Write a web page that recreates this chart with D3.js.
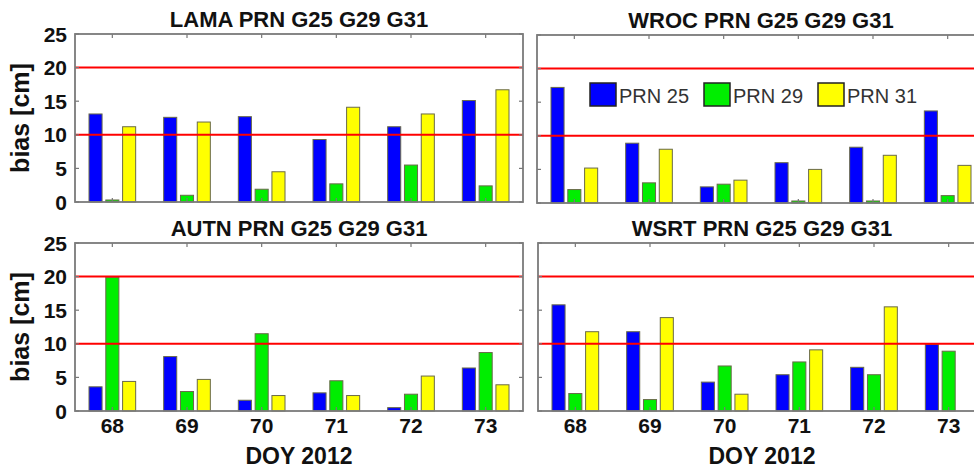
<!DOCTYPE html>
<html>
<head>
<meta charset="utf-8">
<script src="https://cdn.jsdelivr.net/npm/d3@7"></script>
<style>
  body { margin: 0; background: #fff; }
  svg { display: block; font-family: "Liberation Sans", Arial, sans-serif; }
</style>
</head>
<body>
<svg id="chart"></svg>
<script>
// day of year, 2012
var doy = [68, 69, 70, 71, 72, 73];
var yTicks = [0, 5, 10, 15, 20, 25];
var limits = [10, 20];
var prnNames = ["PRN 25", "PRN 29", "PRN 31"];

// bias [cm] per station and satellite
var lamaG25 = [13.1, 12.6, 12.7, 9.3, 11.2, 15.1];
var lamaG29 = [0.3, 1.0, 1.9, 2.7, 5.5, 2.4];
var lamaG31 = [11.2, 11.9, 4.5, 14.1, 13.1, 16.7];

var wrocG25 = [17.2, 8.9, 2.4, 6.0, 8.3, 13.7];
var wrocG29 = [2.0, 3.0, 2.8, 0.3, 0.3, 1.1];
var wrocG31 = [5.2, 8.0, 3.4, 5.0, 7.1, 5.6];

var autnG25 = [3.6, 8.1, 1.6, 2.7, 0.5, 6.4];
var autnG29 = [19.9, 2.9, 11.5, 4.5, 2.5, 8.7];
var autnG31 = [4.4, 4.7, 2.3, 2.3, 5.2, 3.9];

var wsrtG25 = [15.8, 11.8, 4.3, 5.4, 6.5, 9.9];
var wsrtG29 = [2.6, 1.7, 6.7, 7.3, 5.4, 8.9];
var wsrtG31 = [11.8, 13.9, 2.5, 9.1, 15.5, null];

var colors = ["#0000ff", "#00ee00", "#ffff00"];

var W = 974, H = 469;
var svg = d3.select("#chart").attr("width", W).attr("height", H);

var panels = [
  {name: "LAMA", series: [lamaG25, lamaG29, lamaG31], x0: 75, y0: 34, yLabels: true, xLabels: false},
  {name: "WROC", series: [wrocG25, wrocG29, wrocG31], x0: 537, y0: 35, yLabels: false, xLabels: false, legend: true},
  {name: "AUTN", series: [autnG25, autnG29, autnG31], x0: 75, y0: 243, yLabels: true, xLabels: true},
  {name: "WSRT", series: [wsrtG25, wsrtG29, wsrtG31], x0: 538, y0: 243, yLabels: false, xLabels: true}
];
var PW = 448, PH = 168;
var barW = 0.175, barOff = 0.225;

panels.forEach(function (p) {
  var g = svg.append("g").attr("transform", "translate(" + p.x0 + "," + p.y0 + ")");
  var x = d3.scaleLinear().domain([67.5, 73.5]).range([0, PW]);
  var y = d3.scaleLinear().domain([0, 25]).range([PH, 0]);

  // bars
  p.series.forEach(function (vals, si) {
    var data = vals.map(function (v, i) { return {d: doy[i], v: v}; })
      .filter(function (o) { return o.v != null; });
    g.selectAll(".b" + si).data(data).enter().append("rect")
      .attr("x", function (o) { return x(o.d + (si - 1) * barOff - barW / 2); })
      .attr("width", x(67.5 + barW) - x(67.5))
      .attr("y", function (o) { return y(o.v); })
      .attr("height", function (o) { return y(0) - y(o.v); })
      .attr("fill", colors[si])
      .attr("stroke", "#6a6a4a")
      .attr("stroke-width", 1);
  });

  // limit lines
  g.selectAll(".lim").data(limits).enter().append("line")
    .attr("x1", 0).attr("x2", PW)
    .attr("y1", function (v) { return y(v); })
    .attr("y2", function (v) { return y(v); })
    .attr("stroke", "#ff0000").attr("stroke-width", 2);

  // ticks, inside
  var tk = g.append("g").attr("stroke", "#777").attr("stroke-width", 1.2);
  doy.forEach(function (d) {
    tk.append("line").attr("x1", x(d)).attr("x2", x(d)).attr("y1", 0).attr("y2", 4);
    tk.append("line").attr("x1", x(d)).attr("x2", x(d)).attr("y1", PH).attr("y2", PH - 4);
  });
  yTicks.forEach(function (v) {
    tk.append("line").attr("x1", 0).attr("x2", 4).attr("y1", y(v)).attr("y2", y(v));
    tk.append("line").attr("x1", PW).attr("x2", PW - 4).attr("y1", y(v)).attr("y2", y(v));
  });

  // frame
  g.append("rect").attr("x", 0).attr("y", 0).attr("width", PW).attr("height", PH)
    .attr("fill", "none").attr("stroke", "#7a7a7a").attr("stroke-width", 1.8);

  // title
  g.append("text").attr("x", PW / 2).attr("y", -7)
    .attr("text-anchor", "middle").attr("font-size", 22).attr("font-weight", "bold")
    .attr("fill", "#111")
    .text(p.name + " PRN G25 G29 G31");

  if (p.yLabels) {
    g.selectAll(".yl").data(yTicks).enter().append("text")
      .attr("x", -8).attr("y", function (v) { return y(v); })
      .attr("dy", "0.36em").attr("text-anchor", "end")
      .attr("font-size", 21).attr("font-weight", "bold").attr("fill", "#111")
      .text(function (v) { return v; });
    g.append("text")
      .attr("transform", "translate(-46," + (PH / 2) + ") rotate(-90)")
      .attr("text-anchor", "middle").attr("font-size", 25).attr("font-weight", "bold")
      .attr("fill", "#111").text("bias [cm]");
  }

  if (p.xLabels) {
    g.selectAll(".xl").data(doy).enter().append("text")
      .attr("x", function (d) { return x(d); }).attr("y", PH + 22)
      .attr("text-anchor", "middle")
      .attr("font-size", 21).attr("font-weight", "bold").attr("fill", "#111")
      .text(function (d) { return d; });
    g.append("text").attr("x", PW / 2).attr("y", PH + 53)
      .attr("text-anchor", "middle").attr("font-size", 23).attr("font-weight", "bold")
      .attr("fill", "#111").text("DOY 2012");
  }

  if (p.legend) {
    var lx = [53, 167, 281];
    prnNames.forEach(function (n, i) {
      g.append("rect").attr("x", lx[i]).attr("y", 48).attr("width", 26).attr("height", 23)
        .attr("fill", colors[i]).attr("stroke", "#222").attr("stroke-width", 1.5);
      g.append("text").attr("x", lx[i] + 29).attr("y", 68)
        .attr("font-size", 20).attr("fill", "#333").text(n);
    });
  }
});
</script>
</body>
</html>
